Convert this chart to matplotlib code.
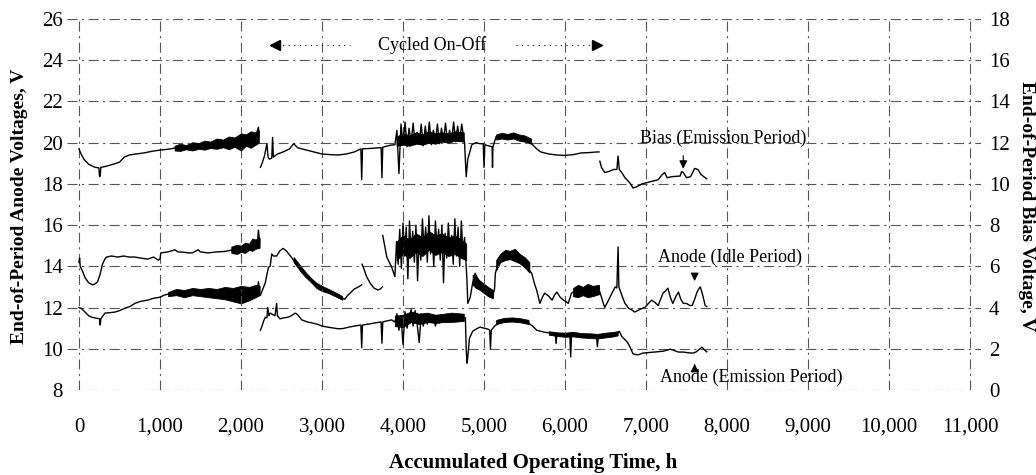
import matplotlib
matplotlib.use("Agg")
import matplotlib.pyplot as plt

# ---- data (hours, volts) ----
# Bias voltage, emission period (right axis, V)
bias1_t = [0, 20, 60, 120, 200, 245, 255, 262, 270, 330, 420, 500, 560, 620, 700, 800, 900, 1000,
           1100, 1200, 1400, 1600, 1800, 2000, 2100, 2180, 2215, 2225]
bias1_v = [11.7, 11.5, 11.2, 10.95, 10.8, 10.78, 10.35, 10.4, 10.8, 10.85, 10.95, 11.05, 11.3, 11.4,
           11.45, 11.5, 11.58, 11.64, 11.68, 11.75, 11.82, 11.92, 12.02, 12.12, 12.2, 12.28, 12.75, 12.3]
bias2_t = [2240, 2260, 2290, 2320, 2335, 2350, 2380, 2390, 2400, 2450, 2520, 2600, 2650, 2700, 2800,
           2900, 3000, 3100, 3200, 3300, 3400, 3480, 3490, 3500, 3600, 3700, 3730, 3740, 3750, 3850,
           3900, 3925, 3950, 3975, 4000, 4025, 4050, 4075, 4100, 4125, 4150, 4175, 4200, 4225, 4250,
           4275, 4300, 4325, 4350, 4375, 4400, 4425, 4450, 4475, 4500, 4525, 4550, 4575, 4600, 4625,
           4650, 4675, 4700, 4725, 4750, 4760, 4780, 4800, 4850, 4900, 4950, 4990, 5000, 5010, 5050,
           5100, 5105, 5110, 5150, 5200, 5300, 5400, 5500, 5550, 5600, 5650, 5700, 5800, 5900, 6000,
           6100, 6200, 6300, 6400, 6420]
bias2_v = [10.8, 11.0, 11.35, 11.95, 11.3, 11.2, 11.25, 12.25, 11.3, 11.45, 11.55, 11.7, 11.95, 11.75,
           11.65, 11.55, 11.45, 11.42, 11.4, 11.45, 11.55, 11.7, 10.2, 11.7, 11.72, 11.75, 11.76, 10.3,
           11.78, 11.88, 11.9, 12.6, 10.5, 12.9, 11.9, 13.0, 11.8, 12.7, 12.0, 12.95, 11.9, 12.5, 12.0,
           12.9, 11.85, 12.8, 12.0, 13.0, 11.9, 12.6, 12.05, 12.9, 11.95, 12.7, 12.1, 12.95, 12.0, 12.6,
           12.1, 13.0, 12.05, 12.8, 12.1, 12.9, 12.2, 12.0, 10.35, 11.2, 11.9, 12.0, 11.95, 11.95, 10.8,
           11.9, 11.85, 11.8, 10.8, 11.8, 12.3, 12.3, 12.35, 12.3, 12.25, 12.1, 11.9, 11.7, 11.55, 11.45,
           11.4, 11.38, 11.42, 11.5, 11.52, 11.55, 11.55]
bias3_t = [6430, 6450, 6490, 6540, 6600, 6640, 6655, 6670, 6700, 6740, 6800, 6840, 6880, 6950, 7050,
           7150, 7200, 7230, 7260, 7320, 7420, 7440, 7460, 7500, 7550, 7600, 7640, 7680, 7730, 7750]
bias3_v = [11.1, 10.8, 10.55, 10.6, 10.7, 10.7, 11.35, 10.7, 10.55, 10.3, 10.05, 9.8, 9.85, 10.0, 10.1,
           10.2, 10.45, 10.55, 10.3, 10.35, 10.38, 10.6, 10.55, 10.3, 10.35, 10.75, 10.7, 10.45, 10.3, 10.25]
bias_band_t = [[1180, 1250, 1320, 1400, 1480, 1550, 1620, 1700, 1780, 1850, 1920, 2000, 2060, 2120, 2180, 2220],
               [3920, 4000, 4080, 4160, 4240, 4320, 4400, 4480, 4560, 4640, 4750],
               [5150, 5220, 5290, 5360, 5430, 5500, 5580]]
bias_band_lo = [[11.62, 11.6, 11.68, 11.62, 11.7, 11.66, 11.74, 11.7, 11.78, 11.68, 11.8, 11.62, 11.85, 11.75, 11.9, 12.0],
                [11.85, 11.9, 11.85, 11.95, 11.9, 12.0, 11.95, 12.05, 12.0, 12.1, 12.05],
                [12.15, 12.2, 12.15, 12.2, 12.1, 12.05, 11.95]]
bias_band_hi = [[11.85, 11.95, 11.88, 12.02, 11.98, 12.1, 12.05, 12.2, 12.15, 12.3, 12.25, 12.45, 12.4, 12.55, 12.5, 12.6],
                [12.3, 12.45, 12.35, 12.5, 12.4, 12.55, 12.45, 12.5, 12.45, 12.55, 12.5],
                [12.4, 12.48, 12.42, 12.5, 12.4, 12.35, 12.2]]

# Anode voltage, idle period (left axis, V)
idle1_t = [0, 8, 15, 40, 75, 120, 170, 200, 230, 260, 290, 320, 340, 400, 480, 550, 620, 690, 760,
           850, 920, 980, 1000, 1010, 1100, 1185, 1220, 1300, 1345, 1400, 1470, 1500, 1590, 1700,
           1800, 1900, 1960, 2050, 2100, 2150, 2200, 2215, 2230]
idle1_v = [14.2, 14.4, 14.0, 13.8, 13.45, 13.2, 13.1, 13.15, 13.25, 13.6, 14.1, 14.35, 14.45, 14.5,
           14.45, 14.5, 14.45, 14.45, 14.4, 14.35, 14.45, 14.3, 14.35, 14.65, 14.7, 14.8, 14.7, 14.68,
           14.65, 14.65, 14.8, 14.7, 14.65, 14.7, 14.72, 14.8, 14.85, 14.9, 15.0, 15.1, 15.05, 15.75, 15.2]
idle2_t = [2240, 2270, 2300, 2320, 2340, 2360, 2380, 2400, 2440, 2480, 2520, 2560, 2630, 2700, 2750,
           2820, 2880, 2950, 3000, 3060, 3120, 3200, 3250, 3280, 3320, 3360, 3400, 3450, 3490]
idle2_v = [12.6, 12.9, 13.2, 13.6, 13.96, 14.0, 14.6, 14.5, 14.5, 14.75, 14.87, 14.75, 14.4, 14.0,
           13.7, 13.45, 13.2, 13.0, 12.95, 12.85, 12.7, 12.55, 12.45, 12.4, 12.6, 12.75, 12.9, 13.0, 13.1]
idle3_t = [3495, 3520, 3550, 3600, 3640, 3690, 3720, 3745]
idle3_v = [14.1, 13.85, 13.5, 13.15, 12.95, 12.85, 12.9, 13.0]
idle4_t = [3750, 3800, 3860, 3900, 3920, 3940, 3960, 3980, 4000, 4020, 4040, 4060, 4080, 4100, 4120,
           4140, 4160, 4180, 4200, 4220, 4240, 4260, 4280, 4300, 4320, 4340, 4360, 4380, 4400, 4420,
           4440, 4460, 4480, 4500, 4520, 4540, 4560, 4580, 4600, 4620, 4640, 4660, 4680, 4700, 4720,
           4740, 4760, 4780, 4790, 4800, 4830, 4860, 4890, 4930, 4970, 5010, 5060, 5110, 5130, 5140,
           5170, 5200, 5250, 5300, 5360, 5420, 5480, 5530, 5590, 5620, 5650, 5690, 5720, 5750, 5800,
           5840, 5870, 5900, 5940, 5980, 6010, 6040, 6080, 6120, 6160, 6250, 6330, 6370, 6410, 6450,
           6490, 6530, 6580, 6620, 6640, 6655, 6665, 6680, 6710, 6740, 6790, 6830, 6860, 6920, 6990,
           7030, 7070, 7110, 7150, 7190, 7210, 7240, 7270, 7300, 7330, 7370, 7400, 7430, 7460, 7500,
           7540, 7570, 7600, 7630, 7650, 7670, 7700, 7730, 7750]
idle4_v = [15.5, 14.45, 13.96, 13.5, 15.2, 14.1, 15.8, 13.9, 16.1, 14.5, 15.9, 13.4, 16.2, 14.6, 15.7,
           14.2, 16.0, 13.3, 15.5, 14.3, 16.3, 14.8, 15.9, 14.2, 16.45, 14.6, 15.6, 14.0, 16.2, 14.9,
           15.8, 14.3, 16.0, 13.2, 15.6, 14.4, 16.1, 14.7, 15.5, 14.1, 16.3, 14.5, 15.9, 14.0, 16.2,
           14.6, 15.4, 14.0, 13.3, 12.2, 12.5, 13.2, 13.66, 13.35, 13.1, 12.84, 12.7, 12.6, 12.9, 13.66,
           14.1, 14.45, 14.55, 14.64, 14.55, 14.3, 14.15, 13.96, 13.66, 13.2, 12.84, 12.2, 12.5, 12.7,
           12.55, 12.36, 12.6, 12.75, 12.5, 12.36, 12.3, 12.2, 12.7, 12.8, 12.84, 12.85, 12.84, 12.9,
           13.0, 12.5, 12.0, 12.3, 12.7, 13.0, 12.95, 14.94, 13.0, 12.84, 12.5, 12.2, 11.95, 11.87,
           11.78, 11.9, 12.02, 12.2, 12.36, 12.25, 12.1, 12.5, 12.7, 12.8, 12.94, 12.5, 12.2, 12.55,
           12.75, 12.4, 12.2, 12.2, 12.1, 12.1, 12.4, 12.75, 12.9, 13.0, 12.6, 12.1, 12.05]
idle_band_t = [[1880, 1950, 2000, 2050, 2100, 2140, 2180, 2230],
               [2650, 2720, 2790, 2860, 2930, 3000, 3080, 3160, 3250],
               [3920, 4000, 4080, 4160, 4240, 4320, 4400, 4480, 4560, 4640, 4720, 4780],
               [4860, 4900, 4950, 5000, 5050, 5110],
               [5150, 5200, 5260, 5320, 5380, 5440, 5500, 5560],
               [6100, 6160, 6220, 6280, 6340, 6420]]
idle_band_lo = [[14.65, 14.6, 14.7, 14.65, 14.8, 14.75, 14.85, 14.9],
                [14.2, 13.85, 13.5, 13.25, 12.95, 12.8, 12.7, 12.55, 12.38],
                [14.3, 14.6, 14.4, 14.7, 14.5, 14.8, 14.55, 14.7, 14.5, 14.6, 14.4, 14.3],
                [13.1, 12.95, 12.85, 12.7, 12.55, 12.45],
                [13.8, 14.2, 14.3, 14.35, 14.25, 14.15, 13.95, 13.7],
                [12.55, 12.5, 12.6, 12.5, 12.55, 12.65]]
idle_band_hi = [[14.95, 15.05, 15.0, 15.15, 15.1, 15.35, 15.3, 15.4],
                [14.45, 14.1, 13.75, 13.45, 13.2, 13.05, 12.9, 12.75, 12.55],
                [15.2, 15.5, 15.3, 15.6, 15.4, 15.7, 15.5, 15.6, 15.4, 15.5, 15.3, 15.1],
                [13.6, 13.5, 13.3, 13.15, 13.0, 12.85],
                [14.3, 14.6, 14.8, 14.75, 14.85, 14.6, 14.45, 14.2],
                [12.95, 13.1, 13.0, 13.15, 13.05, 13.1]]

# Anode voltage, emission period (left axis, V)
emis1_t = [0, 30, 75, 120, 160, 220, 255, 262, 270, 320, 380, 445, 500, 570, 630, 690, 760, 850, 920,
           1000, 1050, 1100, 1185, 1300, 1390, 1500, 1590, 1700, 1800, 1900, 2000, 2100, 2200, 2215, 2230]
emis1_v = [12.0, 11.95, 11.78, 11.6, 11.53, 11.48, 11.45, 11.15, 11.45, 11.73, 11.75, 11.78, 11.85,
           11.97, 12.05, 12.2, 12.3, 12.36, 12.45, 12.5, 12.6, 12.65, 12.7, 12.72, 12.75, 12.72, 12.7,
           12.72, 12.75, 12.72, 12.7, 12.75, 12.8, 13.25, 12.9]
emis2_t = [2240, 2260, 2280, 2300, 2320, 2330, 2345, 2360, 2420, 2440, 2450, 2480, 2530, 2580, 2620,
           2670, 2700, 2750, 2820, 2880, 2950, 3000, 3100, 3200, 3260, 3320, 3400, 3480, 3490, 3500,
           3580, 3650, 3730, 3740, 3750, 3800, 3860, 3900, 3925, 3950, 3975, 4000, 4025, 4050, 4075,
           4100, 4125, 4150, 4175, 4200, 4225, 4250, 4275, 4300, 4325, 4350, 4375, 4400, 4425, 4450,
           4475, 4500, 4525, 4550, 4575, 4600, 4625, 4650, 4675, 4700, 4725, 4750, 4770, 4780, 4790,
           4800, 4820, 4860, 4900, 4950, 5000, 5050, 5070, 5080, 5090, 5130, 5200, 5280, 5360, 5450,
           5530, 5600, 5650, 5750, 5850, 5880, 5890, 5900, 5980, 6060, 6070, 6080, 6150, 6250, 6350,
           6390, 6400, 6410, 6500, 6580, 6640, 6670, 6700, 6770, 6800, 6840, 6900, 6960, 7050, 7130,
           7210, 7300, 7400, 7460, 7530, 7580, 7620, 7690, 7720, 7750]
emis2_v = [10.9, 11.1, 11.35, 11.53, 11.5, 12.0, 11.6, 11.73, 11.6, 12.2, 11.6, 11.45, 11.5, 11.53,
           11.6, 11.73, 11.65, 11.4, 11.3, 11.25, 11.18, 11.1, 11.03, 10.97, 10.98, 11.04, 11.1, 11.15,
           10.05, 11.15, 11.2, 11.25, 11.3, 10.27, 11.3, 11.35, 11.4, 11.3, 11.7, 10.9, 11.6, 10.2,
           11.8, 11.0, 11.5, 11.9, 11.1, 11.85, 11.2, 10.3, 11.7, 11.1, 11.6, 11.2, 11.55, 11.3, 11.6,
           11.1, 11.5, 11.25, 11.55, 11.3, 11.6, 11.3, 11.55, 11.35, 11.6, 11.4, 11.55, 11.35, 11.6,
           11.5, 11.5, 10.0, 9.3, 9.6, 10.5, 10.85, 10.95, 11.05, 11.0, 10.95, 10.9, 10.0, 10.9, 11.1,
           11.3, 11.38, 11.4, 11.35, 11.3, 11.1, 10.9, 10.8, 10.75, 10.75, 10.25, 10.72, 10.7, 10.66,
           9.6, 10.66, 10.65, 10.6, 10.56, 10.55, 10.1, 10.55, 10.6, 10.65, 10.75, 10.85, 10.6, 10.32,
           10.1, 9.75, 9.7, 9.79, 9.82, 9.85, 9.88, 9.98, 9.84, 9.84, 9.8, 9.79, 9.85, 10.08, 9.95, 9.85]
emis_band_t = [[1100, 1200, 1300, 1400, 1500, 1600, 1700, 1800, 1900, 2000, 2100, 2180, 2230],
               [3900, 4000, 4100, 4200, 4300, 4400, 4500, 4600, 4750],
               [5150, 5250, 5350, 5450, 5550],
               [5800, 5900, 6000, 6100, 6200, 6300, 6400, 6500, 6600, 6650]]
emis_band_lo = [[12.55, 12.6, 12.5, 12.6, 12.55, 12.5, 12.45, 12.4, 12.3, 12.2, 12.35, 12.5, 12.6],
                [11.1, 11.05, 11.3, 11.2, 11.3, 11.25, 11.3, 11.3, 11.35],
                [11.2, 11.3, 11.32, 11.28, 11.2],
                [10.68, 10.62, 10.58, 10.6, 10.55, 10.52, 10.5, 10.55, 10.6, 10.65]]
emis_band_hi = [[12.75, 12.9, 12.85, 12.95, 12.9, 12.95, 12.9, 13.0, 12.95, 13.05, 13.0, 13.1, 13.05],
                [11.6, 11.65, 11.8, 11.7, 11.75, 11.65, 11.7, 11.75, 11.7],
                [11.4, 11.5, 11.52, 11.48, 11.4],
                [10.85, 10.8, 10.78, 10.82, 10.76, 10.75, 10.72, 10.78, 10.82, 10.85]]

x_ticks = [0, 1000, 2000, 3000, 4000, 5000, 6000, 7000, 8000, 9000, 10000, 11000]
x_labels = ["0", "1,000", "2,000", "3,000", "4,000", "5,000", "6,000", "7,000", "8,000", "9,000",
            "10,000", "11,000"]
left_ticks = [8, 10, 12, 14, 16, 18, 20, 22, 24, 26]
right_ticks = [0, 2, 4, 6, 8, 10, 12, 14, 16, 18]

plt.rcParams['font.family'] = ['Liberation Serif', 'DejaVu Serif']

fig = plt.figure(figsize=(10.36, 4.75), dpi=100)
ax = fig.add_axes([0.0645, 0.179, 0.882, 0.781])
ax2 = ax.twinx()

ax.set_xlim(-150, 11130)
ax.set_ylim(8, 26)
ax2.set_ylim(0, 18)

grid_style = dict(color="#555555", lw=0.8, ls=(0, (9, 4, 2, 4)))
ax.set_xticks(x_ticks)
ax.set_xticklabels(x_labels, fontsize=15)
ax.set_yticks(left_ticks)
ax.set_yticklabels([str(v) for v in left_ticks], fontsize=15)
ax2.set_yticks(right_ticks)
ax2.set_yticklabels([str(v) for v in right_ticks], fontsize=15)
ax.grid(True, **grid_style)
ax.tick_params(axis='x', length=0, pad=20)
ax.tick_params(axis='y', length=0, pad=3)
ax2.tick_params(axis='y', length=0, pad=6)
for a in (ax, ax2):
    for s in a.spines.values():
        s.set_visible(False)

lw = 1.0
# anode traces
for t, v in [(idle1_t, idle1_v), (idle2_t, idle2_v), (idle3_t, idle3_v), (idle4_t, idle4_v),
             (emis1_t, emis1_v), (emis2_t, emis2_v)]:
    ax.plot(t, v, color="black", lw=lw)
for bt, lo, hi in zip(idle_band_t + emis_band_t, idle_band_lo + emis_band_lo, idle_band_hi + emis_band_hi):
    ax.fill_between(bt, lo, hi, color="black", lw=0.6)

# bias traces
for t, v in [(bias1_t, bias1_v), (bias2_t, bias2_v), (bias3_t, bias3_v)]:
    ax2.plot(t, v, color="black", lw=lw)
for bt, lo, hi in zip(bias_band_t, bias_band_lo, bias_band_hi):
    ax2.fill_between(bt, lo, hi, color="black", lw=0.6)

# annotations
arrow = dict(arrowstyle="-|>", color="black", lw=0.8, mutation_scale=12)
ax2.annotate("", xy=(7460, 10.6), xytext=(7460, 11.5), arrowprops=arrow)
ax.annotate("", xy=(7600, 13.15), xytext=(7600, 13.55), arrowprops=arrow)
ax.annotate("", xy=(7600, 9.4), xytext=(7600, 9.05), arrowprops=arrow)
ax2.text(7950, 12.2, "Bias (Emission Period)", fontsize=13, ha="center", va="center")
ax.text(8040, 14.45, "Anode (Idle Period)", fontsize=13, ha="center", va="center")
ax.text(8300, 8.62, "Anode (Emission Period)", fontsize=13, ha="center", va="center")

ax.text(4360, 24.74, "Cycled On-Off", fontsize=13, ha="center", va="center")
ax.plot([2450, 3350], [24.74, 24.74], color="black", lw=0.8, ls=(0, (1, 4)))
ax.plot([5400, 6330], [24.74, 24.74], color="black", lw=0.8, ls=(0, (1, 4)))
ax.plot([2420], [24.74], marker="<", color="black", ms=7)
ax.plot([6400], [24.74], marker=">", color="black", ms=7)

fig.text(0.019, 0.565, "End-of-Period Anode Voltages, V", rotation=90, fontsize=14,
         fontweight="bold", ha="center", va="center")
fig.text(0.991, 0.565, "End-of-Period Bias Voltage, V", rotation=-90, fontsize=14,
         fontweight="bold", ha="center", va="center")
fig.text(0.515, 0.025, "Accumulated Operating Time, h", fontsize=15, fontweight="bold",
         ha="center", va="center")

fig.savefig("out.png", dpi=100)
